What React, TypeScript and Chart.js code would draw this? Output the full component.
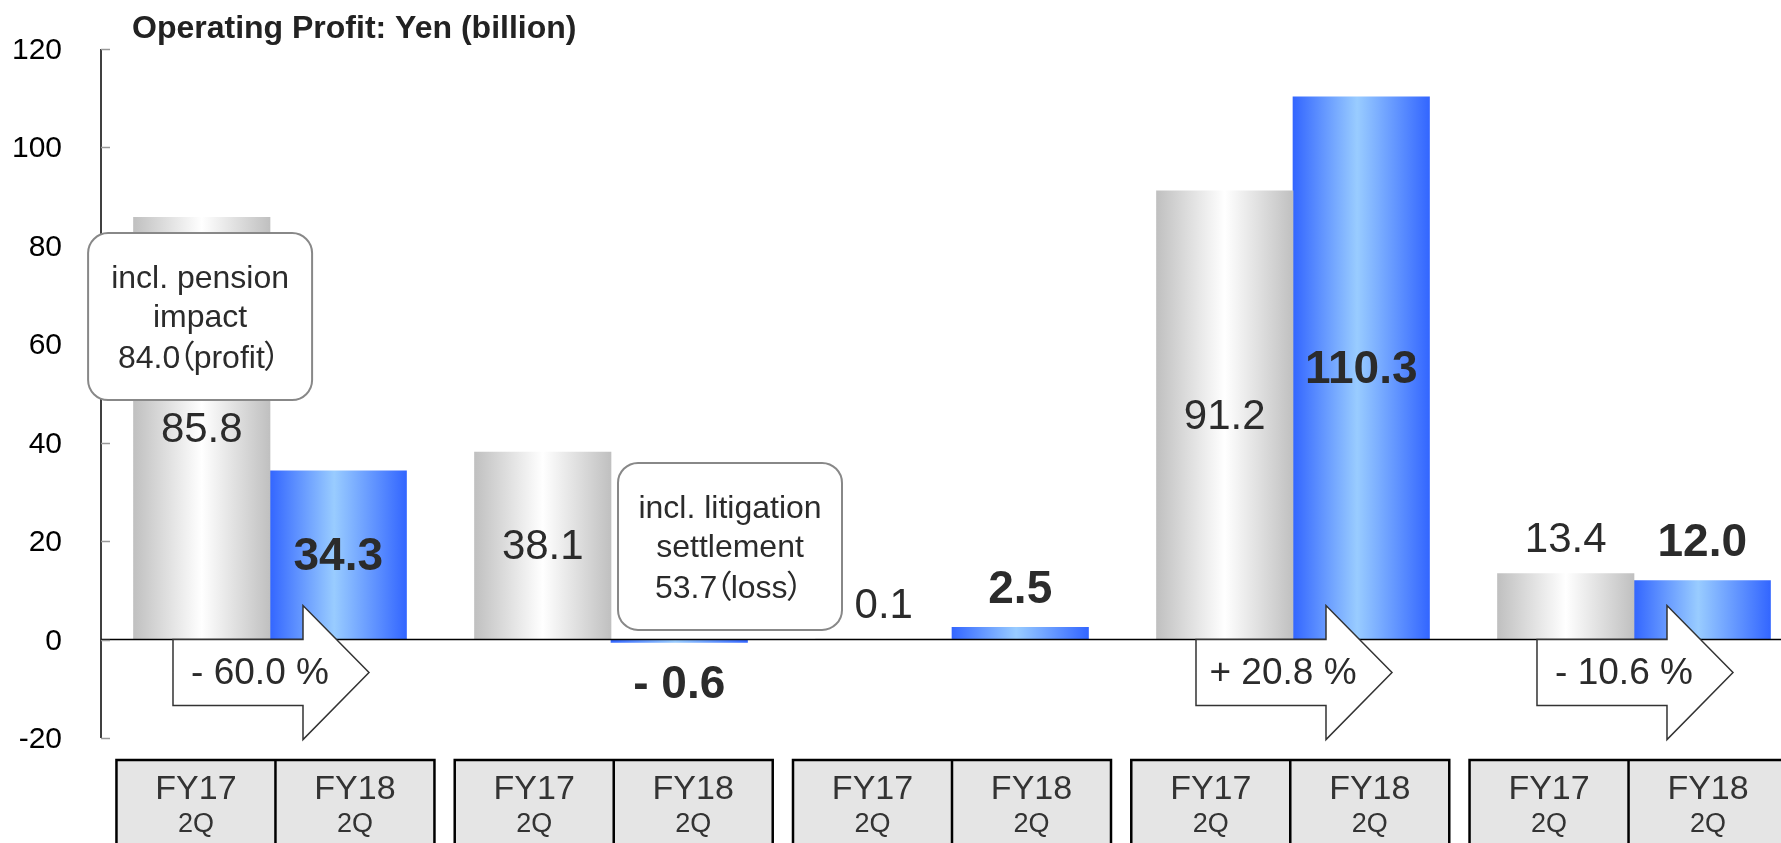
import React, { useEffect, useRef } from 'react';
import { Chart, registerables } from 'chart.js';

Chart.register(...registerables);

// ---- data ----
const categories = ['Segment 1', 'Segment 2', 'Segment 3', 'Segment 4', 'Segment 5'];
const periodNames = ['FY17', 'FY18'];
const quarterName = '2Q';
const fy17Values = [85.8, 38.1, 0.1, 91.2, 13.4];
const fy18Values = [34.3, -0.6, 2.5, 110.3, 12.0];
const fy17Labels = ['85.8', '38.1', '0.1', '91.2', '13.4'];
const fy18Labels = ['34.3', '- 0.6', '2.5', '110.3', '12.0'];
const changeLabels = ['- 60.0 %', '', '', '+ 20.8 %', '- 10.6 %'];
const yMin = -20;
const yMax = 120;
const yStep = 20;
const titleText = 'Operating Profit: Yen (billion)';
const noteLines = [
  ['incl. pension', 'impact', '84.0（profit）'],
  ['incl. litigation', 'settlement', '53.7（loss）'],
];

// ---- layout / style (not data) ----
const W = 1781;
const H = 843;
const BAR_W = 136.5;
const FONT = "'Liberation Sans', Arial, 'Noto Sans CJK JP', sans-serif";
const TEXT = '#2b2b2b';
const noteAnchors = [
  { category: 0, shift: -0.205, topValue: 82.6 },
  { category: 1, shift: 0.349, topValue: 35.9 },
];

const greyStops: [number, string][] = [[0, '#c0c0c0'], [0.5, '#ffffff'], [1, '#c0c0c0']];
const blueStops: [number, string][] = [[0, '#3366ff'], [0.47, '#99ccff'], [1, '#3366ff']];

const makeGradient = (dsIndex: number, stops: [number, string][]) => (ctx: any) => {
  const chart = ctx.chart;
  const xs = chart.scales && chart.scales.x;
  if (!chart.chartArea || !xs || ctx.dataIndex === undefined) return stops[0][1];
  const center = xs.getPixelForValue(ctx.dataIndex) + (dsIndex === 0 ? -BAR_W / 2 : BAR_W / 2);
  const g = chart.ctx.createLinearGradient(center - BAR_W / 2, 0, center + BAR_W / 2, 0);
  stops.forEach(([o, c]) => g.addColorStop(o, c));
  return g;
};

function roundRect(c: CanvasRenderingContext2D, x: number, y: number, w: number, h: number, r: number) {
  c.beginPath();
  c.moveTo(x + r, y);
  c.lineTo(x + w - r, y);
  c.arcTo(x + w, y, x + w, y + r, r);
  c.lineTo(x + w, y + h - r);
  c.arcTo(x + w, y + h, x + w - r, y + h, r);
  c.lineTo(x + r, y + h);
  c.arcTo(x, y + h, x, y + h - r, r);
  c.lineTo(x, y + r);
  c.arcTo(x, y, x + r, y, r);
  c.closePath();
}

// draw text with proportional spacing for full-width parentheses
function drawPropText(c: CanvasRenderingContext2D, text: string, cx: number, y: number, size: number) {
  const parts = text.split(/([（）])/).filter((p) => p.length);
  const em = size;
  const pieces = parts.map((p) => {
    if (p === '（') return { p, w: 0.42 * em, dx: -0.52 * em };
    if (p === '）') return { p, w: 0.42 * em, dx: -0.05 * em };
    return { p, w: c.measureText(p).width, dx: 0 };
  });
  const total = pieces.reduce((s, q) => s + q.w, 0);
  let x = cx - total / 2;
  c.textAlign = 'left';
  pieces.forEach((q) => {
    c.fillText(q.p, x + q.dx, y);
    x += q.w;
  });
  c.textAlign = 'center';
}

const overlay = {
  id: 'overlay',
  afterDatasetsDraw(chart: any) {
    const { ctx, chartArea } = chart;
    const xs = chart.scales.x;
    const ys = chart.scales.y;
    const zeroY = ys.getPixelForValue(0);
    ctx.save();

    // axis line
    ctx.strokeStyle = '#000';
    ctx.lineWidth = 1.5;
    ctx.beginPath();
    ctx.moveTo(chartArea.left, chartArea.top);
    ctx.lineTo(chartArea.left, chartArea.bottom);
    ctx.stroke();
    // zero line
    ctx.beginPath();
    ctx.moveTo(chartArea.left, zeroY);
    ctx.lineTo(chartArea.right, zeroY);
    ctx.stroke();
    // inward ticks + tick labels
    ys.ticks.forEach((t: any) => {
      const py = Math.round(ys.getPixelForValue(t.value)) + 0.5;
      ctx.strokeStyle = '#999';
      ctx.beginPath();
      ctx.moveTo(chartArea.left, py);
      ctx.lineTo(chartArea.left + 9, py);
      ctx.stroke();
      ctx.fillStyle = '#000';
      ctx.font = `30px ${FONT}`;
      ctx.textAlign = 'right';
      ctx.textBaseline = 'middle';
      ctx.fillText(String(t.value), chartArea.left - 39, py + 1);
    });

    // change arrows
    changeLabels.forEach((lab, i) => {
      if (!lab) return;
      const cx = xs.getPixelForValue(i);
      const L = cx - 97, S = cx + 33, T = cx + 99;
      ctx.beginPath();
      ctx.moveTo(L, zeroY);
      ctx.lineTo(S, zeroY);
      ctx.lineTo(S, zeroY - 34);
      ctx.lineTo(T, zeroY + 33);
      ctx.lineTo(S, zeroY + 100);
      ctx.lineTo(S, zeroY + 66);
      ctx.lineTo(L, zeroY + 66);
      ctx.closePath();
      ctx.fillStyle = '#fff';
      ctx.fill();
      ctx.strokeStyle = '#333';
      ctx.lineWidth = 1.5;
      ctx.stroke();
      ctx.fillStyle = TEXT;
      ctx.font = `37px ${FONT}`;
      ctx.textAlign = 'center';
      ctx.textBaseline = 'middle';
      ctx.fillText(lab, cx - 10, zeroY + 34);
    });

    // callout notes
    noteAnchors.forEach((a, k) => {
      const cx = xs.getPixelForValue(a.category + a.shift);
      const top = ys.getPixelForValue(a.topValue);
      const bw = 224, bh = 167;
      roundRect(ctx, cx - bw / 2, top, bw, bh, 20);
      ctx.fillStyle = '#fff';
      ctx.fill();
      ctx.strokeStyle = '#888';
      ctx.lineWidth = 2;
      ctx.stroke();
      ctx.fillStyle = TEXT;
      ctx.textAlign = 'center';
      ctx.textBaseline = 'alphabetic';
      const offs = [55, 94, 135];
      noteLines[k].forEach((line, j) => {
        ctx.font = `32px ${FONT}`;
        if (j === 2) drawPropText(ctx, line, cx - 2, top + offs[j], 32);
        else ctx.fillText(line, cx, top + offs[j]);
      });
    });

    // value labels
    const labelSets = [fy17Labels, fy18Labels];
    const valueSets = [fy17Values, fy18Values];
    [0, 1].forEach((d) => {
      const meta = chart.getDatasetMeta(d);
      meta.data.forEach((el: any, i: number) => {
        const v = valueSets[d][i];
        const bold = d === 1;
        ctx.font = `${bold ? 'bold 46px' : '42px'} ${FONT}`;
        ctx.fillStyle = TEXT;
        ctx.textAlign = 'center';
        ctx.textBaseline = 'middle';
        let ly;
        if (Math.abs(v) >= 20) ly = (el.y + el.base) / 2;
        else if (v >= 0) ly = Math.min(el.y, el.base) - (bold ? 39 : 35);
        else ly = Math.max(el.y, el.base) + 41;
        ctx.fillText(labelSets[d][i], el.x, ly + 2);
      });
    });

    // title
    ctx.font = `bold 32px ${FONT}`;
    ctx.fillStyle = '#222';
    ctx.textAlign = 'left';
    ctx.textBaseline = 'alphabetic';
    ctx.fillText(titleText, 132, 38);

    // category boxes
    const catW = xs.getPixelForValue(1) - xs.getPixelForValue(0);
    const pitch = catW * 0.992;
    const mid = xs.getPixelForValue(2);
    const boxTop = chartArea.bottom + 22;
    categories.forEach((_, i) => {
      const c = mid + (i - 2) * pitch;
      const left = c - 159;
      ctx.fillStyle = '#e5e5e5';
      ctx.fillRect(left, boxTop, 318, H - boxTop + 10);
      ctx.strokeStyle = '#000';
      ctx.lineWidth = 2.5;
      ctx.strokeRect(left, boxTop, 318, H - boxTop + 10);
      ctx.beginPath();
      ctx.moveTo(c, boxTop);
      ctx.lineTo(c, H + 10);
      ctx.stroke();
      periodNames.forEach((p, j) => {
        const tx = left + 79.5 + j * 159;
        ctx.fillStyle = '#333';
        ctx.textAlign = 'center';
        ctx.textBaseline = 'middle';
        ctx.font = `34px ${FONT}`;
        ctx.fillText(p, tx, boxTop + 30);
        ctx.font = `27px ${FONT}`;
        ctx.fillText(quarterName, tx, boxTop + 65);
      });
    });

    ctx.restore();
  },
};

export default function App() {
  const ref = useRef<HTMLCanvasElement | null>(null);
  useEffect(() => {
    document.body.style.margin = '0';
    const canvas = ref.current;
    if (!canvas) return;
    const chart = new Chart(canvas, {
      type: 'bar',
      data: {
        datasets: [
          {
            label: 'FY17 2Q',
            data: fy17Values.map((v, i) => ({ x: i, y: v })),
            backgroundColor: makeGradient(0, greyStops),
            barThickness: BAR_W,
            borderWidth: 0,
          },
          {
            label: 'FY18 2Q',
            data: fy18Values.map((v, i) => ({ x: i, y: v })),
            backgroundColor: makeGradient(1, blueStops),
            barThickness: BAR_W,
            borderWidth: 0,
          },
        ],
      },
      options: {
        responsive: false,
        animation: false,
        devicePixelRatio: 1,
        layout: { padding: { top: 49, bottom: 105, left: 0, right: 0 } },
        plugins: {
          legend: { display: false },
          tooltip: { enabled: false },
          title: { display: false },
        },
        scales: {
          x: {
            type: 'linear',
            min: -0.4956,
            max: 4.4311,
            offset: false,
            bounds: 'data',
            grid: { offset: false },
            display: false,
          },
          y: {
            min: yMin,
            max: yMax,
            ticks: { stepSize: yStep, display: false, padding: 0 },
            grid: { display: false, drawTicks: false },
            border: { display: false },
            afterFit: (s: any) => {
              s.width = 101;
            },
          },
        },
      } as any,
      plugins: [overlay],
    });
    return () => chart.destroy();
  }, []);
  return (
    <div style={{ width: W, height: H, background: '#fff' }}>
      <canvas ref={ref} width={W} height={H} style={{ display: 'block' }} />
    </div>
  );
}
